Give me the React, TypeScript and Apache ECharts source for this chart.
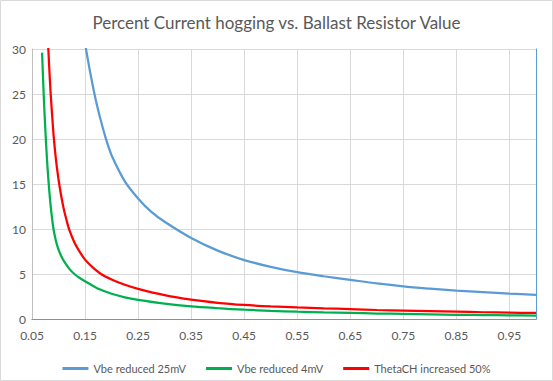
import React, { useEffect, useRef } from "react";
import * as echarts from "echarts";

const titleText = "Percent Current hogging vs. Ballast Resistor Value";
const seriesNames = ["Vbe reduced 25mV", "Vbe reduced 4mV", "ThetaCH increased 50%"];
const seriesColors = ["#5b9bd5", "#00b050", "#ff0000"];

const blueX = [0.15, 0.16, 0.17, 0.18, 0.19, 0.2, 0.225, 0.25, 0.275, 0.3, 0.35, 0.4, 0.45, 0.5, 0.55, 0.6, 0.65, 0.7, 0.75, 0.8, 0.85, 0.9, 0.95, 1.0];
const blueY = [30.6, 27.3, 24.4, 22.0, 19.9, 18.2, 15.3, 13.4, 11.9, 10.8, 9.0, 7.6, 6.55, 5.8, 5.2, 4.75, 4.35, 3.95, 3.62, 3.37, 3.15, 2.98, 2.82, 2.68];

const greenX = [0.069, 0.072, 0.075, 0.078, 0.081, 0.084, 0.087, 0.09, 0.095, 0.1, 0.105, 0.11, 0.12, 0.13, 0.14, 0.15, 0.175, 0.2, 0.225, 0.25, 0.3, 0.35, 0.4, 0.45, 0.5, 0.55, 0.6, 0.65, 0.7, 0.75, 0.8, 0.85, 0.9, 0.95, 1.0];
const greenY = [29.6, 25.0, 21.2, 18.0, 15.4, 13.3, 11.6, 10.2, 8.7, 7.7, 7.0, 6.45, 5.6, 5.0, 4.55, 4.2, 3.35, 2.8, 2.4, 2.12, 1.7, 1.4, 1.2, 1.03, 0.91, 0.81, 0.73, 0.67, 0.61, 0.56, 0.51, 0.47, 0.44, 0.41, 0.38];

const redX = [0.08, 0.082, 0.085, 0.088, 0.091, 0.095, 0.1, 0.105, 0.11, 0.115, 0.12, 0.13, 0.14, 0.15, 0.165, 0.18, 0.2, 0.225, 0.25, 0.3, 0.35, 0.4, 0.45, 0.5, 0.55, 0.6, 0.65, 0.7, 0.75, 0.8, 0.85, 0.9, 0.95, 1.0];
const redY = [31.0, 28.5, 25.2, 22.6, 20.2, 17.8, 15.5, 13.7, 12.2, 11.0, 9.95, 8.5, 7.45, 6.6, 5.7, 5.0, 4.4, 3.8, 3.35, 2.65, 2.15, 1.8, 1.56, 1.4, 1.28, 1.18, 1.1, 1.0, 0.93, 0.87, 0.81, 0.75, 0.71, 0.67];

const xMin = 0.05;
const xMax = 1.0;
const xInterval = 0.1;
const yMin = 0;
const yMax = 30;
const yInterval = 5;

const FONT = "Lato, 'Open Sans', sans-serif";

function pairs(xs: number[], ys: number[]) {
  return xs.map((x, i) => [x, ys[i]]);
}

export default function App() {
  const ref = useRef<HTMLDivElement>(null);
  useEffect(() => {
    if (!ref.current) return;
    const chart = echarts.init(ref.current, null, { renderer: "svg" });
    const data = [pairs(blueX, blueY), pairs(greenX, greenY), pairs(redX, redY)];
    chart.setOption({
      animation: false,
      backgroundColor: "#ffffff",
      textStyle: { fontFamily: FONT },
      title: {
        text: titleText,
        left: "center",
        top: 14,
        padding: 0,
        textStyle: { color: "#595959", fontSize: 17, fontWeight: "normal", fontFamily: FONT },
      },
      legend: {
        data: seriesNames,
        top: 358,
        left: "center",
        icon: "rect",
        itemWidth: 26,
        itemHeight: 3,
        itemGap: 20,
        textStyle: { color: "#595959", fontSize: 11, fontFamily: FONT },
      },
      grid: { left: 32, right: 17, top: 49, bottom: 62, containLabel: false },
      xAxis: [
        {
          type: "value",
          min: xMin,
          max: xMax,
          interval: xInterval,
          axisLine: { show: true, lineStyle: { color: "#bfbfbf", width: 1 } },
          axisTick: { show: false },
          axisLabel: {
            color: "#595959",
            fontSize: 12,
            margin: 10,
            showMaxLabel: false,
            formatter: (v: number) => v.toFixed(2),
          },
          splitLine: { show: true, lineStyle: { color: "#d9d9d9", width: 1 } },
        },
        {
          type: "value",
          position: "top",
          min: xMin,
          max: xMax,
          interval: xInterval,
          axisLine: { show: true, lineStyle: { color: "#5b9bd5", width: 1 } },
          axisTick: { show: false },
          axisLabel: { show: false },
          splitLine: { show: false },
        },
      ],
      yAxis: [
        {
          type: "value",
          min: yMin,
          max: yMax,
          interval: yInterval,
          axisLine: { show: true, lineStyle: { color: "#bfbfbf", width: 1 } },
          axisTick: { show: false },
          axisLabel: { color: "#595959", fontSize: 12, margin: 6 },
          splitLine: { show: true, lineStyle: { color: "#d9d9d9", width: 1 } },
        },
        {
          type: "value",
          position: "right",
          min: yMin,
          max: yMax,
          interval: yInterval,
          axisLine: { show: true, lineStyle: { color: "#5b9bd5", width: 1 } },
          axisTick: { show: false },
          axisLabel: { show: false },
          splitLine: { show: false },
        },
      ],
      graphic: [
        {
          type: "rect",
          shape: { x: 0.5, y: 0.5, width: 552, height: 380 },
          style: { fill: "none", stroke: "#d9d9d9", lineWidth: 1 },
          silent: true,
        },
      ],
      series: seriesNames.map((name, i) => ({
        name,
        type: "line",
        xAxisIndex: 0,
        yAxisIndex: 0,
        data: data[i],
        showSymbol: false,
        symbol: "none",
        smooth: 0.3,
        clip: true,
        lineStyle: { color: seriesColors[i], width: 2.25 },
        itemStyle: { color: seriesColors[i] },
      })),
    });
    return () => chart.dispose();
  }, []);
  return (
    <div
      ref={ref}
      style={{ position: "fixed", left: 0, top: 0, width: 553, height: 381 }}
    />
  );
}
